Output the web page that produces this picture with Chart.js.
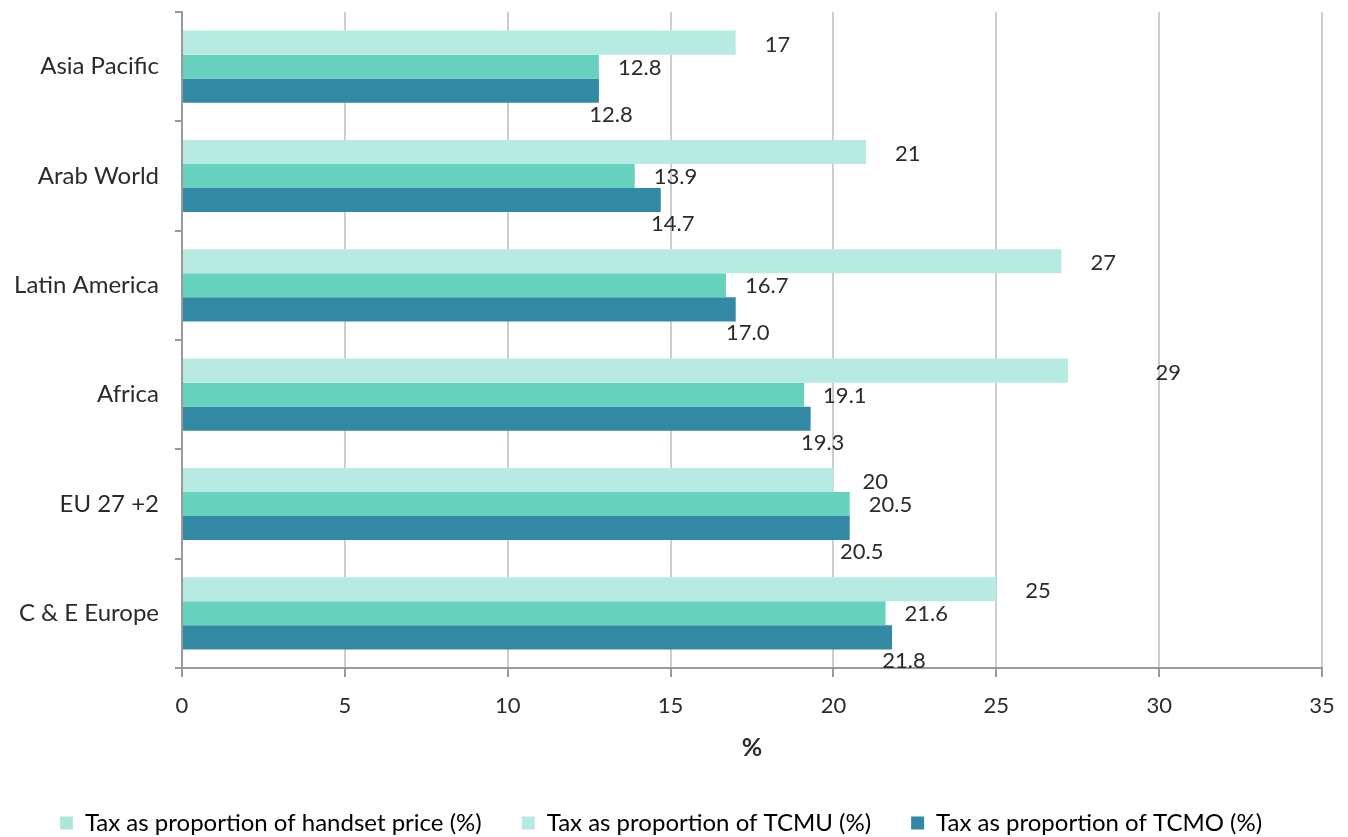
<!DOCTYPE html>
<html>
<head>
<meta charset="utf-8">
<script src="https://cdn.jsdelivr.net/npm/chart.js@4/dist/chart.umd.min.js"></script>
<style>
  html, body { margin: 0; padding: 0; background: #fff; }
</style>
</head>
<body>
<canvas id="taxChart" width="1348" height="837"></canvas>
<script>
const categories = ['Asia Pacific', 'Arab World', 'Latin America', 'Africa', 'EU 27 +2', 'C & E Europe'];
// handset bars as drawn; the Africa bar is shorter than its printed label
const handsetValues = [17, 21, 27, 27.2, 20, 25];
const handsetLabels = ['17', '21', '27', '29', '20', '25'];
const tcmuValues = [12.8, 13.9, 16.7, 19.1, 20.5, 21.6];
const tcmoValues = [12.8, 14.7, 17.0, 19.3, 20.5, 21.8];
const xTicks = [0, 5, 10, 15, 20, 25, 30, 35];
const seriesNames = [
    'Tax as proportion of handset price (%)',
    'Tax as proportion of TCMU (%)',
    'Tax as proportion of TCMO (%)'
];

const colors = {
    light: '#b7ebe1',
    mid: '#66d1bc',
    dark: '#3389a3',
    legendFirst: '#ace7d9',
    text: '#2b2b2b',
    grid: '#cdcdcd',
    axis: '#9a9a9a'
};
const FONT = 'Lato, "Open Sans", sans-serif';

const barLabels = {
    id: 'barLabels',
    afterDatasetsDraw(chart) {
        const ctx = chart.ctx;
        const xs = chart.scales.x;
        ctx.save();
        ctx.font = '22px ' + FONT;
        ctx.fillStyle = colors.text;
        ctx.textBaseline = 'middle';

        ctx.textAlign = 'left';
        chart.getDatasetMeta(0).data.forEach((bar, i) => {
            const x = xs.getPixelForValue(Number(handsetLabels[i])) + 29;
            ctx.fillText(handsetLabels[i], x, bar.y + 2);
        });
        chart.getDatasetMeta(1).data.forEach((bar, i) => {
            ctx.fillText(tcmuValues[i].toFixed(1), bar.x + 19, bar.y + 1);
        });

        ctx.textAlign = 'center';
        chart.getDatasetMeta(2).data.forEach((bar, i) => {
            ctx.fillText(tcmoValues[i].toFixed(1), bar.x + 12, bar.y + 24);
        });
        ctx.restore();
    }
};

const data = {
    labels: categories,
    datasets: [
        { label: seriesNames[0], data: handsetValues, backgroundColor: colors.light },
        { label: seriesNames[1], data: tcmuValues, backgroundColor: colors.mid },
        { label: seriesNames[2], data: tcmoValues, backgroundColor: colors.dark }
    ]
};

const legendColors = [colors.legendFirst, colors.light, colors.dark];

const ctx = document.getElementById('taxChart').getContext('2d');
const chart = new Chart(ctx, {
    type: 'bar',
    data: data,
    plugins: [barLabels],
    options: {
        indexAxis: 'y',
        responsive: false,
        animation: false,
        devicePixelRatio: 1,
        datasets: {
            bar: { barPercentage: 1, categoryPercentage: 0.66, borderWidth: 0 }
        },
        layout: { padding: { top: 12, right: 26, left: 0, bottom: 0 } },
        scales: {
            x: {
                min: 0,
                max: 35,
                afterBuildTicks: (scale) => { scale.ticks = xTicks.map(v => ({ value: v })); },
                afterFit: (scale) => {
                    scale.height = 103;
                    scale.paddingRight = 0;
                    scale.paddingLeft = 0;
                },
                ticks: { color: colors.text, font: { family: FONT, size: 22 }, padding: 16 },
                grid: { color: colors.grid, lineWidth: 2, tickLength: 9, tickColor: colors.axis },
                border: { color: colors.axis, width: 2 },
                title: {
                    display: true,
                    text: '%',
                    color: colors.text,
                    font: { family: FONT, size: 25, weight: 'bold' },
                    padding: { top: 0, bottom: 8 }
                }
            },
            y: {
                afterFit: (scale) => {
                    scale.width = 182;
                    scale.paddingTop = 0;
                    scale.paddingBottom = 0;
                },
                ticks: { color: colors.text, font: { family: FONT, size: 24 }, padding: 16 },
                grid: { offset: true, drawOnChartArea: false, tickLength: 7, color: colors.axis, lineWidth: 2 },
                border: { color: colors.axis, width: 2 }
            }
        },
        plugins: {
            tooltip: { enabled: false },
            legend: {
                position: 'bottom',
                maxHeight: 66,
                labels: {
                    boxWidth: 13,
                    boxHeight: 13,
                    padding: 40,
                    color: colors.text,
                    font: { family: FONT, size: 24 },
                    generateLabels: (c) => c.data.datasets.map((ds, i) => ({
                        text: ds.label,
                        fillStyle: legendColors[i],
                        strokeStyle: legendColors[i],
                        lineWidth: 0,
                        hidden: false,
                        datasetIndex: i
                    }))
                }
            }
        }
    }
});
</script>
</body>
</html>
